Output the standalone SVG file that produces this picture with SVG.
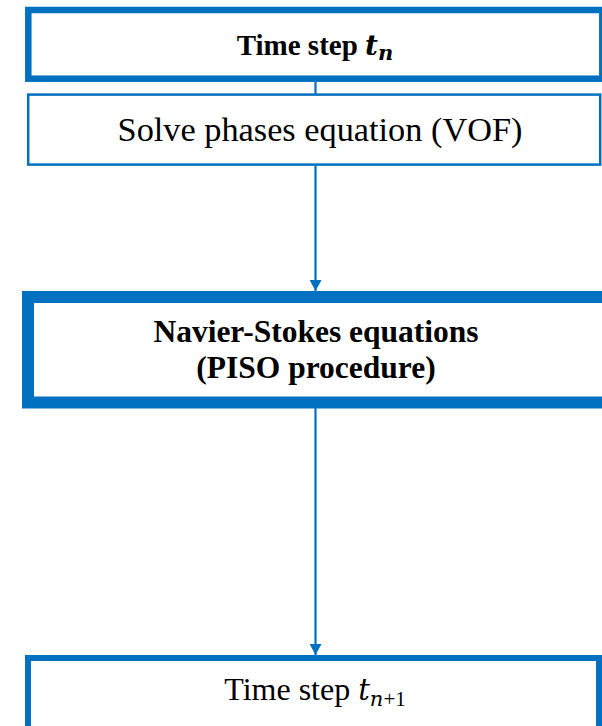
<svg xmlns="http://www.w3.org/2000/svg" width="602" height="726" viewBox="0 0 602 726">
  <style>
    .box { fill: #ffffff; stroke: #0070C0; }
    .txt { font-family: "Liberation Serif", "Times New Roman", serif; fill: #000000; text-anchor: middle; }
    .math { font-family: "DejaVu Serif", "Liberation Serif", serif; font-style: italic; }
    .link { stroke: #0070C0; stroke-width: 2.2; fill: none; }
  </style>
  <defs>
    <marker id="arrow" markerWidth="13" markerHeight="12" refX="12" refY="6.5" orient="auto" markerUnits="userSpaceOnUse" viewBox="0 0 12 13">
      <path d="M0,0 L12,6.5 L0,13 Z" fill="#0070C0"/>
    </marker>
  </defs>

  <rect width="602" height="726" fill="#ffffff"/>

  <!-- connectors -->
  <g id="connectors">
    <line class="link" x1="315.5" y1="80" x2="315.5" y2="95"/>
    <line class="link" x1="315.5" y1="165" x2="315.5" y2="291" marker-end="url(#arrow)"/>
    <line class="link" x1="315.5" y1="408" x2="315.5" y2="655" marker-end="url(#arrow)"/>
  </g>

  <!-- time step n -->
  <g id="node-time-n">
    <rect class="box" x="28.3" y="10" width="574" height="68.7" stroke-width="6.5"/>
    <text class="txt" x="315" y="55" font-size="29" font-weight="bold">Time step <tspan class="math" font-weight="bold" font-size="28">t</tspan><tspan class="math" font-weight="bold" font-size="21" dy="5">n</tspan></text>
  </g>

  <!-- VOF step -->
  <g id="node-vof">
    <rect class="box" x="28.2" y="94.6" width="572" height="70" stroke-width="2.5"/>
    <text class="txt" x="320" y="141" font-size="34.3">Solve phases equation (VOF)</text>
  </g>

  <!-- Navier-Stokes / PISO -->
  <g id="node-piso">
    <rect class="box" x="28" y="297" width="581" height="105.5" stroke-width="12"/>
    <text class="txt" x="316" y="342" font-size="31.5" font-weight="bold">Navier-Stokes equations</text>
    <text class="txt" x="316" y="378" font-size="31.5" font-weight="bold">(PISO procedure)</text>
  </g>

  <!-- time step n+1 -->
  <g id="node-time-n1">
    <rect class="box" x="28" y="658" width="571" height="100" stroke-width="6"/>
    <text class="txt" x="315" y="700" font-size="32">Time step <tspan class="math" font-size="29">t</tspan><tspan font-size="21" dy="6"><tspan class="math">n</tspan>+1</tspan></text>
  </g>
</svg>
